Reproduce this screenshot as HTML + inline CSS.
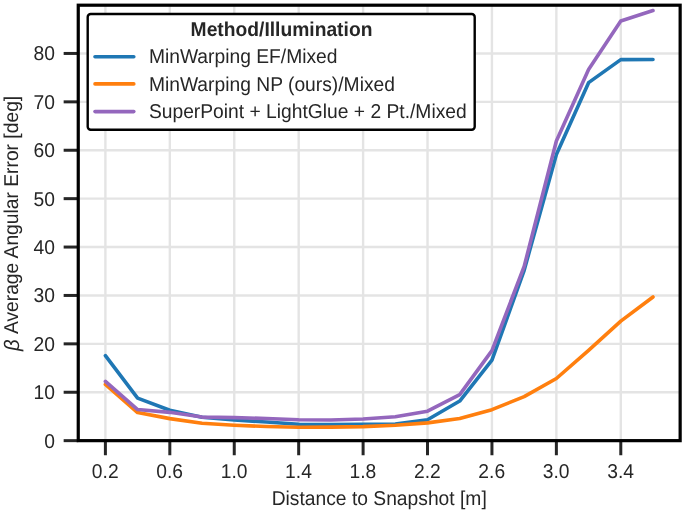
<!DOCTYPE html>
<html><head><meta charset="utf-8"><style>html,body{margin:0;padding:0;background:#fff}svg{display:block;will-change:transform}text{font-family:"Liberation Sans",sans-serif;fill:#262626;text-rendering:geometricPrecision}</style></head><body>
<svg width="685" height="512" viewBox="0 0 685 512">
<rect width="685" height="512" fill="#fff"/>
<g stroke="#e4e4e4" stroke-width="2.4"><line x1="105.40" y1="5.20" x2="105.40" y2="440.65"/><line x1="169.82" y1="5.20" x2="169.82" y2="440.65"/><line x1="234.25" y1="5.20" x2="234.25" y2="440.65"/><line x1="298.67" y1="5.20" x2="298.67" y2="440.65"/><line x1="363.10" y1="5.20" x2="363.10" y2="440.65"/><line x1="427.52" y1="5.20" x2="427.52" y2="440.65"/><line x1="491.94" y1="5.20" x2="491.94" y2="440.65"/><line x1="556.37" y1="5.20" x2="556.37" y2="440.65"/><line x1="620.79" y1="5.20" x2="620.79" y2="440.65"/><line x1="78.25" y1="392.25" x2="680.15" y2="392.25"/><line x1="78.25" y1="343.85" x2="680.15" y2="343.85"/><line x1="78.25" y1="295.45" x2="680.15" y2="295.45"/><line x1="78.25" y1="247.05" x2="680.15" y2="247.05"/><line x1="78.25" y1="198.65" x2="680.15" y2="198.65"/><line x1="78.25" y1="150.25" x2="680.15" y2="150.25"/><line x1="78.25" y1="101.85" x2="680.15" y2="101.85"/><line x1="78.25" y1="53.45" x2="680.15" y2="53.45"/></g>
<polyline points="105.40,355.61 137.61,398.15 169.82,410.30 202.04,417.32 234.25,419.98 266.46,422.02 298.67,424.19 330.88,424.63 363.10,424.24 395.31,424.00 427.52,419.74 459.73,401.01 491.94,360.21 524.16,270.28 556.37,154.61 588.58,82.64 620.79,59.65 653.00,59.55" fill="none" stroke="#1f77b4" stroke-width="3.6" stroke-linecap="round" stroke-linejoin="round"/>
<polyline points="105.40,384.51 137.61,412.58 169.82,418.63 202.04,423.32 234.25,425.21 266.46,426.52 298.67,427.19 330.88,427.10 363.10,426.61 395.31,425.21 427.52,422.89 459.73,418.58 491.94,409.67 524.16,396.61 556.37,378.50 588.58,350.38 620.79,321.10 653.00,297.00" fill="none" stroke="#ff7f0e" stroke-width="3.6" stroke-linecap="round" stroke-linejoin="round"/>
<polyline points="105.40,381.46 137.61,409.58 169.82,412.34 202.04,417.08 234.25,417.66 266.46,418.48 298.67,419.79 330.88,420.03 363.10,419.02 395.31,416.79 427.52,411.22 459.73,394.67 491.94,350.63 524.16,266.41 556.37,141.05 588.58,69.42 620.79,21.02 653.00,10.57" fill="none" stroke="#9467bd" stroke-width="3.6" stroke-linecap="round" stroke-linejoin="round"/>
<g stroke="#262626" stroke-width="3.0"><line x1="105.40" y1="440.65" x2="105.40" y2="455.25"/><line x1="169.82" y1="440.65" x2="169.82" y2="455.25"/><line x1="234.25" y1="440.65" x2="234.25" y2="455.25"/><line x1="298.67" y1="440.65" x2="298.67" y2="455.25"/><line x1="363.10" y1="440.65" x2="363.10" y2="455.25"/><line x1="427.52" y1="440.65" x2="427.52" y2="455.25"/><line x1="491.94" y1="440.65" x2="491.94" y2="455.25"/><line x1="556.37" y1="440.65" x2="556.37" y2="455.25"/><line x1="620.79" y1="440.65" x2="620.79" y2="455.25"/><line x1="63.65" y1="440.65" x2="78.25" y2="440.65"/><line x1="63.65" y1="392.25" x2="78.25" y2="392.25"/><line x1="63.65" y1="343.85" x2="78.25" y2="343.85"/><line x1="63.65" y1="295.45" x2="78.25" y2="295.45"/><line x1="63.65" y1="247.05" x2="78.25" y2="247.05"/><line x1="63.65" y1="198.65" x2="78.25" y2="198.65"/><line x1="63.65" y1="150.25" x2="78.25" y2="150.25"/><line x1="63.65" y1="101.85" x2="78.25" y2="101.85"/><line x1="63.65" y1="53.45" x2="78.25" y2="53.45"/></g>
<rect x="78.25" y="5.20" width="601.90" height="435.45" fill="none" stroke="#000" stroke-width="3.2"/>
<text transform="translate(105.20,478) scale(1,1.04)" font-size="19.25" text-anchor="middle">0.2</text>
<text transform="translate(169.62,478) scale(1,1.04)" font-size="19.25" text-anchor="middle">0.6</text>
<text transform="translate(234.05,478) scale(1,1.04)" font-size="19.25" text-anchor="middle">1.0</text>
<text transform="translate(298.47,478) scale(1,1.04)" font-size="19.25" text-anchor="middle">1.4</text>
<text transform="translate(362.90,478) scale(1,1.04)" font-size="19.25" text-anchor="middle">1.8</text>
<text transform="translate(427.32,478) scale(1,1.04)" font-size="19.25" text-anchor="middle">2.2</text>
<text transform="translate(491.74,478) scale(1,1.04)" font-size="19.25" text-anchor="middle">2.6</text>
<text transform="translate(556.17,478) scale(1,1.04)" font-size="19.25" text-anchor="middle">3.0</text>
<text transform="translate(620.59,478) scale(1,1.04)" font-size="19.25" text-anchor="middle">3.4</text>
<text transform="translate(54.9,447.50) scale(1,1.04)" font-size="19.25" text-anchor="end">0</text>
<text transform="translate(54.9,399.10) scale(1,1.04)" font-size="19.25" text-anchor="end">10</text>
<text transform="translate(54.9,350.70) scale(1,1.04)" font-size="19.25" text-anchor="end">20</text>
<text transform="translate(54.9,302.30) scale(1,1.04)" font-size="19.25" text-anchor="end">30</text>
<text transform="translate(54.9,253.90) scale(1,1.04)" font-size="19.25" text-anchor="end">40</text>
<text transform="translate(54.9,205.50) scale(1,1.04)" font-size="19.25" text-anchor="end">50</text>
<text transform="translate(54.9,157.10) scale(1,1.04)" font-size="19.25" text-anchor="end">60</text>
<text transform="translate(54.9,108.70) scale(1,1.04)" font-size="19.25" text-anchor="end">70</text>
<text transform="translate(54.9,60.30) scale(1,1.04)" font-size="19.25" text-anchor="end">80</text>
<text transform="translate(379.20,505) scale(1,1.04)" font-size="19.25" text-anchor="middle">Distance to Snapshot [m]</text>
<text transform="translate(18.45,223.42) rotate(-90) scale(1,1.04)" font-size="19.25" text-anchor="middle"><tspan font-style="italic" font-size="20.3" dy="0.5">β</tspan><tspan dy="-0.5"> Average Angular Error [deg]</tspan></text>
<rect x="87.7" y="14.0" width="387" height="115.7" rx="3" ry="3" fill="#fff" stroke="#000" stroke-width="2.4"/>
<text transform="translate(281.5,36) scale(1,1.04)" font-size="19.25" font-weight="bold" text-anchor="middle">Method/Illumination</text>
<line x1="95.0" y1="56.70" x2="133.8" y2="56.70" stroke="#1f77b4" stroke-width="3.6" stroke-linecap="round"/>
<text transform="translate(148.9,63.00) scale(1,1.04)" font-size="19.25">MinWarping EF/Mixed</text>
<line x1="95.0" y1="83.90" x2="133.8" y2="83.90" stroke="#ff7f0e" stroke-width="3.6" stroke-linecap="round"/>
<text transform="translate(148.9,91.00) scale(1,1.04)" font-size="19.25">MinWarping NP (ours)/Mixed</text>
<line x1="95.0" y1="111.60" x2="133.8" y2="111.60" stroke="#9467bd" stroke-width="3.6" stroke-linecap="round"/>
<text transform="translate(148.9,118.00) scale(1,1.04)" font-size="19.25">SuperPoint + LightGlue + 2 Pt./Mixed</text>
</svg></body></html>
